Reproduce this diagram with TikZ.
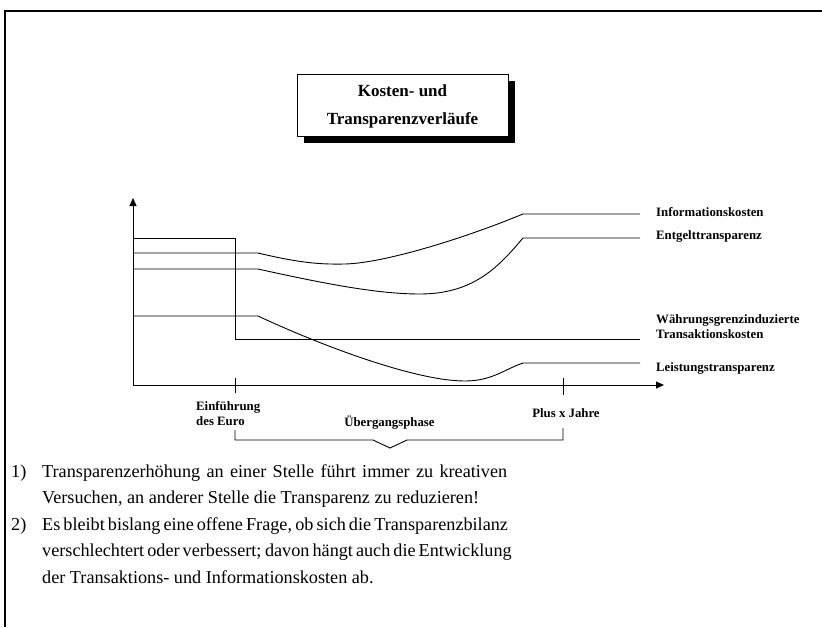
\documentclass[tikz,border=0pt]{standalone}
\usepackage{fontspec}
\setmainfont{Liberation Serif}
\usetikzlibrary{arrows.meta}
\begin{document}
\begin{tikzpicture}[x=1pt,y=-1pt,
  curve/.style={line width=0.9pt,black},
  axis/.style={line width=0.9pt,-{Triangle[length=8pt,width=7pt]}},
  lbl/.style={font=\fontsize{12.8}{15}\selectfont\bfseries,inner sep=0pt,anchor=base west},
  axlbl/.style={font=\fontsize{12.8}{15}\selectfont\bfseries,inner sep=0pt,anchor=base},
  note/.style={font=\fontsize{18.2}{26}\selectfont,inner sep=0pt,anchor=base west},
  titletxt/.style={font=\fontsize{17}{20}\selectfont\bfseries,inner sep=0pt,anchor=base}]
\useasboundingbox (0,0) rectangle (822,627);
% frame
\draw[line width=1.8pt] (5,627) -- (5,11) -- (822,11);
% title box
\fill[black] (304,81) rectangle (515,143);
\draw[line width=0.9pt,fill=white] (297,74) rectangle (508,136);
\node[titletxt] (t1) at (402.5,96) {Kosten- und};
\node[titletxt] (t2) at (402.5,124) {Transparenzverläufe};
% axes
\coordinate (O) at (133,385);
\coordinate (ytop) at (133,198);
\coordinate (xend) at (664,385);
\draw[axis] (O) -- (ytop);
\draw[axis] (O) -- (xend);
% ticks
\draw[line width=0.9pt] (235,378) -- (235,393);
\draw[line width=0.9pt] (563,378) -- (563,395);
% Waehrungsgrenzinduzierte Transaktionskosten
\draw[curve] (133,238) -- (235,238) -- (235,339) -- (640,339);
% Informationskosten
\draw[curve] (133,253) -- (258,253) .. controls (300,263) and (320,264.5) .. (345,264)
  .. controls (385,263) and (465,238) .. (523,214) -- (640,214);
% Entgelttransparenz
\draw[curve] (133,269) -- (258,269) .. controls (330,285) and (380,294) .. (420,294)
  .. controls (475,294) and (500,265) .. (523,238) -- (640,238);
% Leistungstransparenz
\draw[curve] (133,316) -- (258,316) .. controls (320,345) and (415,381) .. (465,381)
  .. controls (492,381) and (505,369) .. (523,363) -- (640,363);
% curve labels
\node[lbl] (l1) at (656,216) {Informationskosten};
\node[lbl] (l2) at (656,239) {Entgelttransparenz};
\node[lbl] (l3) at (656,323) {Währungsgrenzinduzierte};
\node[lbl] (l3b) at (656,338) {Transaktionskosten};
\node[lbl] (l4) at (656,371) {Leistungstransparenz};
% axis labels
\node[lbl] (e1) at (196,410) {Einführung};
\node[lbl] (e2) at (196,425) {des Euro};
\node[axlbl] (ue) at (389.5,426) {Übergangsphase};
\node[axlbl] (px) at (566,417) {Plus x Jahre};
% brace
\draw[line width=0.9pt] (235,430) -- (235,440) -- (373,440) -- (390,448) -- (407,440) -- (563,440) -- (563,428);
% notes
\node[note] (n1) at (11,477) {1)};
\node[note] (n1a) at (42,477) {\hbox to 465pt{Transparenzerhöhung an einer Stelle führt immer zu kreativen}};
\node[note] (n1b) at (42,503.5) {Versuchen, an anderer Stelle die Transparenz zu reduzieren!};
\node[note] (n2) at (11,530) {2)};
\node[note] (n2a) at (42,530) {\hbox to 465pt{Es bleibt bislang eine offene Frage, ob sich die Transparenzbilanz}};
\node[note] (n2b) at (42,556.5) {\hbox to 465pt{verschlechtert oder verbessert; davon hängt auch die Entwicklung}};
\node[note] (n2c) at (42,583) {der Transaktions- und Informationskosten ab.};
\end{tikzpicture}
\end{document}
